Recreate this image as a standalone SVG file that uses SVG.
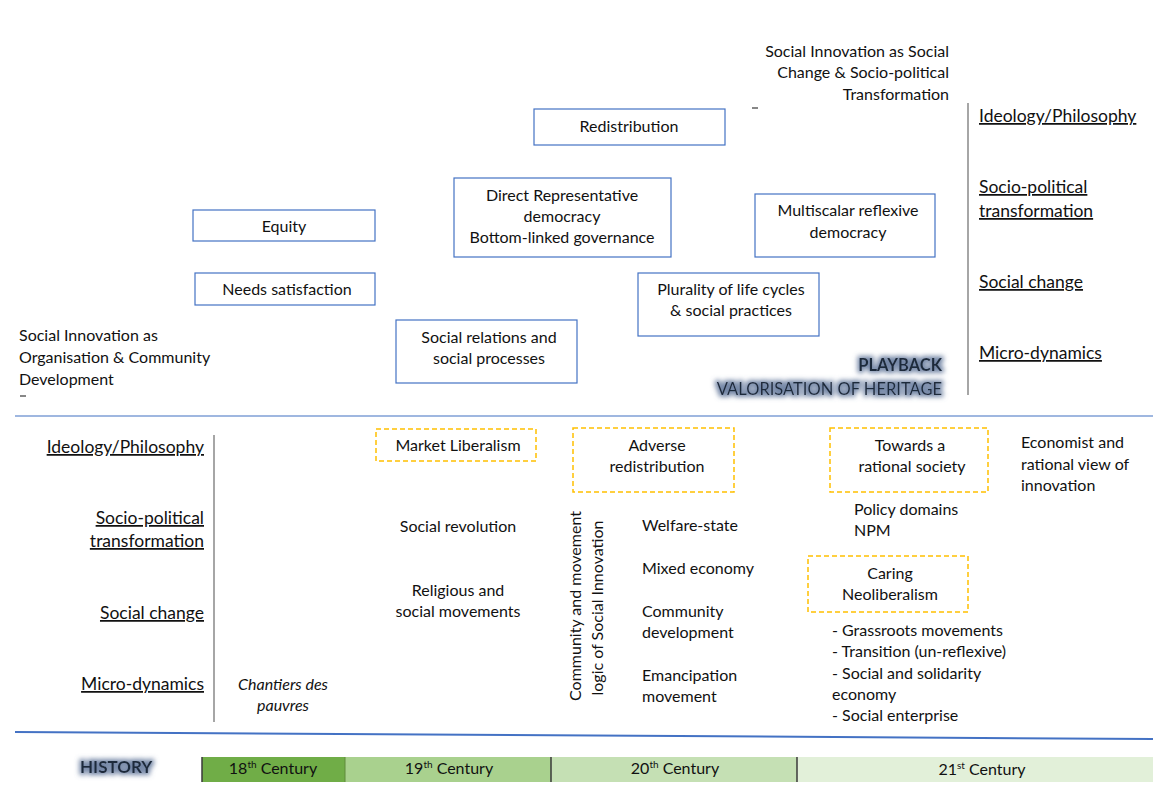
<svg xmlns="http://www.w3.org/2000/svg" width="1153" height="790" viewBox="0 0 1153 790">
<defs>
<style>
text{font-family:Lato,"Liberation Sans",sans-serif;font-size:16px;fill:#111;}
.c{text-anchor:middle;}
.r{text-anchor:end;}
.big{font-size:17.5px;text-decoration:underline;}
.box{fill:none;stroke:#4472C4;stroke-width:1.2;}
.dash{fill:none;stroke:#FFC000;stroke-width:1.5;stroke-dasharray:5 3;}
.vline{stroke:#A6A6A6;stroke-width:2;}
.bold{font-weight:bold;}
.it{font-style:italic;}
.sup{font-size:10px;}
.gl{font-size:16.5px;fill:#1F2A3A;}
</style>
<filter id="glow" x="-20%" y="-80%" width="140%" height="260%">
<feMorphology in="SourceAlpha" operator="dilate" radius="1.5" result="d"/>
<feGaussianBlur in="d" stdDeviation="2.8" result="b"/>
<feFlood flood-color="#5B7196" flood-opacity="0.85"/>
<feComposite in2="b" operator="in" result="g"/>
<feMerge><feMergeNode in="g"/><feMergeNode in="SourceGraphic"/></feMerge>
</filter>
</defs>
<rect width="1153" height="790" fill="#fff"/>

<g id="dividers">
<line x1="15" y1="416" x2="1153" y2="416" stroke="#7F9FD6" stroke-width="1.5"/>
<line x1="15" y1="732" x2="1153" y2="739" stroke="#4472C4" stroke-width="2"/>
<line class="vline" x1="968" y1="103" x2="968" y2="395"/>
<line class="vline" x1="214" y1="435" x2="214" y2="722"/>
<line x1="752" y1="108" x2="758" y2="108" stroke="#111" stroke-width="1"/>
<line x1="20" y1="396" x2="26" y2="396" stroke="#111" stroke-width="1"/>
</g>

<g id="connectors"></g>

<g id="header-top">
<text class="r" x="949" y="57">Social Innovation as Social</text>
<text class="r" x="949" y="78">Change &amp; Socio-political</text>
<text class="r" x="949" y="100">Transformation</text>
</g>

<g id="scale-top">
<text class="big" x="979" y="122">Ideology/Philosophy</text>
<text class="big" x="979" y="193">Socio-political</text>
<text class="big" x="979" y="217">transformation</text>
<text class="big" x="979" y="288">Social change</text>
<text class="big" x="979" y="359">Micro-dynamics</text>
</g>

<g id="node-redistribution">
<rect class="box" x="534" y="109" width="191" height="36"/>
<text class="c" x="629" y="132">Redistribution</text>
</g>
<g id="node-democracy">
<rect class="box" x="454" y="178" width="217" height="79"/>
<text class="c" x="562" y="201">Direct   Representative</text>
<text class="c" x="562" y="222">democracy</text>
<text class="c" x="562" y="243">Bottom-linked governance</text>
</g>
<g id="node-equity">
<rect class="box" x="193" y="210" width="182" height="31"/>
<text class="c" x="284" y="232">Equity</text>
</g>
<g id="node-needs">
<rect class="box" x="195" y="273" width="180" height="32"/>
<text class="c" x="287" y="295">Needs satisfaction</text>
</g>
<g id="node-multiscalar">
<rect class="box" x="755" y="194" width="180" height="63"/>
<text class="c" x="848" y="216">Multiscalar reflexive</text>
<text class="c" x="848" y="238">democracy</text>
</g>
<g id="node-plurality">
<rect class="box" x="638" y="273" width="181" height="63"/>
<text class="c" x="731" y="295">Plurality of life cycles</text>
<text class="c" x="731" y="316">&amp; social practices</text>
</g>
<g id="node-social-relations">
<rect class="box" x="396" y="320" width="181" height="63"/>
<text class="c" x="489" y="343">Social relations and</text>
<text class="c" x="489" y="364">social processes</text>
</g>
<g id="label-organisation">
<text x="19" y="341">Social Innovation as</text>
<text x="19" y="363">Organisation &amp; Community</text>
<text x="19" y="385">Development</text>
</g>
<g id="label-playback" filter="url(#glow)">
<text class="r bold gl" x="942" y="371">PLAYBACK</text>
<text class="r gl" x="942" y="395">VALORISATION OF HERITAGE</text>
</g>

<g id="scale-bottom">
<text class="big r" x="204" y="453">Ideology/Philosophy</text>
<text class="big r" x="204" y="524">Socio-political</text>
<text class="big r" x="204" y="547">transformation</text>
<text class="big r" x="204" y="619">Social change</text>
<text class="big r" x="204" y="690">Micro-dynamics</text>
</g>
<g id="node-chantiers">
<text class="c it" x="283" y="690">Chantiers des</text>
<text class="c it" x="283" y="711">pauvres</text>
</g>
<g id="node-market-liberalism">
<rect class="dash" x="376" y="429" width="160" height="32"/>
<text class="c" x="458" y="451">Market Liberalism</text>
</g>
<g id="node-revolution">
<text class="c" x="458" y="532">Social revolution</text>
<text class="c" x="458" y="596">Religious and</text>
<text class="c" x="458" y="617">social movements</text>
</g>
<g id="node-adverse">
<rect class="dash" x="573" y="428" width="161" height="64"/>
<text class="c" x="657" y="451">Adverse</text>
<text class="c" x="657" y="472">redistribution</text>
</g>
<g id="node-community-logic">
<text class="c" transform="translate(581,606) rotate(-90)">Community and movement</text>
<text class="c" transform="translate(603,608) rotate(-90)">logic of Social Innovation</text>
</g>
<g id="node-welfare">
<text x="642" y="531">Welfare-state</text>
<text x="642" y="574">Mixed economy</text>
<text x="642" y="617">Community</text>
<text x="642" y="638">development</text>
<text x="642" y="681">Emancipation</text>
<text x="642" y="702">movement</text>
</g>
<g id="node-rational-society">
<rect class="dash" x="830" y="428" width="158" height="64"/>
<text class="c" x="910" y="451">Towards a</text>
<text class="c" x="912" y="472">rational society</text>
</g>
<g id="node-policy">
<text x="854" y="515">Policy domains</text>
<text x="854" y="536">NPM</text>
</g>
<g id="node-caring">
<rect class="dash" x="808" y="556" width="160" height="56"/>
<text class="c" x="890" y="579">Caring</text>
<text class="c" x="890" y="600">Neoliberalism</text>
</g>
<g id="node-grassroots">
<text x="832" y="636">- Grassroots movements</text>
<text x="832" y="657">- Transition (un-reflexive)</text>
<text x="832" y="679">- Social and solidarity</text>
<text x="832" y="700">economy</text>
<text x="832" y="721">- Social enterprise</text>
</g>
<g id="node-economist">
<text x="1021" y="448">Economist and</text>
<text x="1021" y="470">rational view of</text>
<text x="1021" y="491">innovation</text>
</g>

<g id="timeline">
<text class="bold gl" x="80" y="773" filter="url(#glow)" style="font-size:17px">HISTORY</text>
<rect x="202" y="757" width="143" height="25" fill="#70AD47"/>
<rect x="345" y="757" width="206" height="25" fill="#A9D18E"/>
<rect x="551" y="757" width="246" height="25" fill="#C5E0B4"/>
<rect x="797" y="757" width="356" height="25" fill="#E2F0D9"/>
<line x1="202" y1="757" x2="202" y2="782" stroke="#3A3A3A" stroke-width="1.5"/>
<line x1="345" y1="757" x2="345" y2="782" stroke="#5E8A3A" stroke-width="1"/>
<line x1="551" y1="757" x2="551" y2="782" stroke="#3A3A3A" stroke-width="1.5"/>
<line x1="797" y1="757" x2="797" y2="782" stroke="#3A3A3A" stroke-width="1.5"/>
<text class="c" x="273" y="774">18<tspan class="sup" dy="-6">th</tspan><tspan dy="6"> Century</tspan></text>
<text class="c" x="449" y="774">19<tspan class="sup" dy="-6">th</tspan><tspan dy="6"> Century</tspan></text>
<text class="c" x="675" y="774">20<tspan class="sup" dy="-6">th</tspan><tspan dy="6"> Century</tspan></text>
<text class="c" x="982" y="775">21<tspan class="sup" dy="-6">st</tspan><tspan dy="6"> Century</tspan></text>
</g>
</svg>
